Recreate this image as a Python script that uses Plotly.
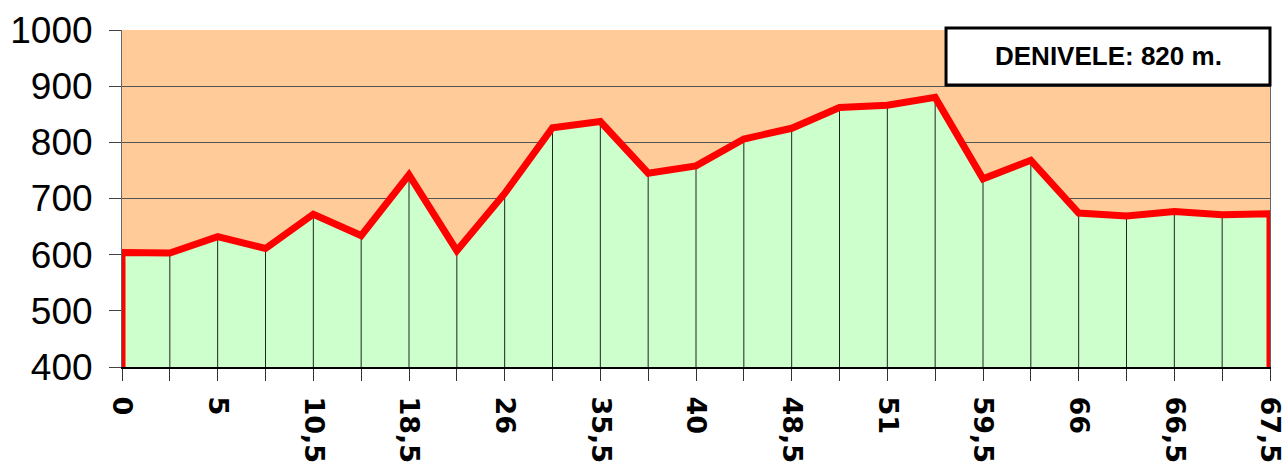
import plotly.graph_objects as go

# Elevation profile data
km_labels = ["0", "5", "10,5", "18,5", "26", "35,5", "40", "48,5", "51", "59,5", "66", "66,5", "67,5"]
elevation = [604, 603, 632, 611, 672, 634, 742, 607, 709, 826, 837, 745, 758,
             806, 825, 862, 866, 880, 735, 768, 674, 669, 677, 671, 673]
y_min, y_max = 400, 1000
annotation_text = "DENIVELE: 820 m."

n = len(elevation)
xs = list(range(n))
ticktext = [km_labels[i // 2] if i % 2 == 0 else "" for i in xs]

font_family = "Arial, Liberation Sans, sans-serif"

fig = go.Figure()

# green area under profile
fig.add_trace(go.Scatter(
    x=xs, y=elevation, mode="lines", line=dict(width=0, color="#CCFFCC"),
    fill="tozeroy", fillcolor="#CCFFCC", hoverinfo="skip", showlegend=False))

# vertical drop lines
fig.add_trace(go.Scatter(
    x=xs, y=elevation, mode="markers", marker=dict(size=1, opacity=0),
    error_y=dict(type="data", symmetric=False, array=[0] * n,
                 arrayminus=[v - y_min for v in elevation],
                 width=0, thickness=1, color="#222222"),
    hoverinfo="skip", showlegend=False))

# red profile line with vertical ends
fig.add_trace(go.Scatter(
    x=[xs[0]] + xs + [xs[-1]], y=[y_min] + elevation + [y_min],
    mode="lines", line=dict(color="#FF0000", width=7, shape="linear"),
    hoverinfo="skip", showlegend=False))

fig.update_layout(
    width=1286, height=470,
    margin=dict(l=122, r=16, t=30, b=103),
    paper_bgcolor="white", plot_bgcolor="#FFCC99",
    font=dict(family=font_family, color="black"),
)

fig.update_xaxes(
    range=[0, n - 1], tickmode="array", tickvals=xs, ticktext=ticktext,
    tickangle=90, ticks="outside", ticklen=12, tickcolor="#333333", tickwidth=1,
    tickfont=dict(size=27, family="DejaVu Sans", weight="bold", color="black"),
    ticklabelstandoff=10, ticklabeloverflow="allow",
    showgrid=False, zeroline=False, showline=True, linecolor="black", linewidth=2,
    automargin=False,
)
fig.update_yaxes(
    range=[y_min, y_max], dtick=100, tick0=0, ticks="outside", ticklen=12,
    tickcolor="#444444", tickwidth=1,
    tickfont=dict(size=37, family=font_family, color="black"),
    ticklabelstandoff=9,
    showgrid=True, gridcolor="#555555", gridwidth=1, zeroline=False,
    showline=True, linecolor="#666666", linewidth=1, mirror=True,
    automargin=False,
)

# annotation box
fig.add_shape(type="rect", xref="paper", yref="paper",
              x0=0.7178, x1=1.0, y0=0.8368, y1=1.006,
              fillcolor="white", line=dict(color="black", width=3), layer="above")
fig.add_annotation(xref="paper", yref="paper", x=0.8589, y=0.9214,
                   text=annotation_text, showarrow=False,
                   font=dict(size=26, family=font_family, weight="bold", color="black"),
                   xanchor="center", yanchor="middle")

fig.write_html("out.html", config={"displayModeBar": False},
               post_script="document.body.style.margin='0px';")
